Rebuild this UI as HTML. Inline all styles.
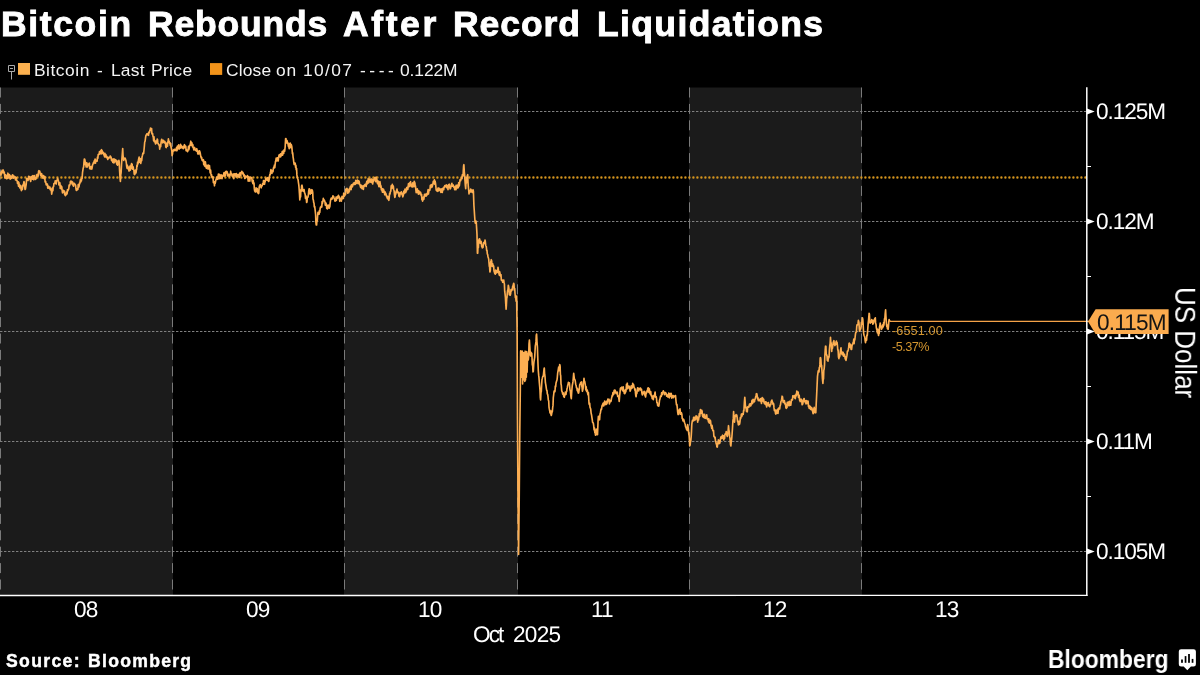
<!DOCTYPE html>
<html><head><meta charset="utf-8"><title>Bitcoin Rebounds After Record Liquidations</title>
<style>
html,body{margin:0;padding:0;background:#000;}
body{width:1200px;height:675px;overflow:hidden;position:relative;font-family:"Liberation Sans",sans-serif;color:#fff;}
.t{position:absolute;white-space:nowrap;line-height:1;will-change:transform;}
#usd{font-size:26px;transform-origin:0 0;transform:rotate(90deg) scale(1,1.112);left:1199.8px;top:286.7px;}
svg{position:absolute;left:0;top:0;}
.u{display:inline-block;transform:rotate(0.03deg);transform-origin:0 0;}
</style></head><body>
<svg width="1200" height="675" viewBox="0 0 1200 675">

<rect x="0" y="87.5" width="173" height="508.0" fill="#1b1b1b"/>
<rect x="344" y="87.5" width="174" height="508.0" fill="#1b1b1b"/>
<rect x="689" y="87.5" width="173" height="508.0" fill="#1b1b1b"/>
<line x1="0.5" y1="87.5" x2="0.5" y2="595.5" stroke="#7a7a7a" stroke-width="1" stroke-dasharray="10 6.4"/>
<line x1="172.5" y1="87.5" x2="172.5" y2="595.5" stroke="#7a7a7a" stroke-width="1" stroke-dasharray="10 6.4"/>
<line x1="344.5" y1="87.5" x2="344.5" y2="595.5" stroke="#7a7a7a" stroke-width="1" stroke-dasharray="10 6.4"/>
<line x1="517.5" y1="87.5" x2="517.5" y2="595.5" stroke="#7a7a7a" stroke-width="1" stroke-dasharray="10 6.4"/>
<line x1="689.5" y1="87.5" x2="689.5" y2="595.5" stroke="#7a7a7a" stroke-width="1" stroke-dasharray="10 6.4"/>
<line x1="861.5" y1="87.5" x2="861.5" y2="595.5" stroke="#7a7a7a" stroke-width="1" stroke-dasharray="10 6.4"/>
<line x1="0" y1="111.5" x2="1086" y2="111.5" stroke="#808080" stroke-width="1" stroke-dasharray="2.4 1.6"/>
<line x1="0" y1="221.5" x2="1086" y2="221.5" stroke="#808080" stroke-width="1" stroke-dasharray="2.4 1.6"/>
<line x1="0" y1="331.5" x2="1086" y2="331.5" stroke="#808080" stroke-width="1" stroke-dasharray="2.4 1.6"/>
<line x1="0" y1="441.5" x2="1086" y2="441.5" stroke="#808080" stroke-width="1" stroke-dasharray="2.4 1.6"/>
<line x1="0" y1="551.5" x2="1086" y2="551.5" stroke="#808080" stroke-width="1" stroke-dasharray="2.4 1.6"/>
<line x1="1.4" y1="177.5" x2="1086" y2="177.5" stroke="#d3941f" stroke-width="2.4" stroke-dasharray="0.01 3.99" stroke-linecap="round"/>
<path d="M0.0,175.5 L0.3,174.1 L0.7,172.8 L1.0,175.1 L1.3,171.5 L1.7,173.6 L2.0,172.3 L2.3,170.2 L2.7,172.2 L3.0,171.7 L3.3,170.0 L3.6,172.9 L4.0,171.7 L4.3,172.5 L4.6,175.1 L4.9,178.0 L5.2,177.0 L5.6,174.8 L5.9,175.2 L6.2,177.2 L6.6,178.7 L6.9,176.6 L7.2,175.4 L7.6,178.4 L7.9,173.2 L8.2,175.5 L8.6,177.8 L8.9,175.0 L9.2,174.5 L9.5,174.7 L9.9,176.1 L10.2,179.1 L10.5,177.7 L10.8,176.0 L11.1,178.1 L11.4,178.3 L11.7,176.8 L12.1,177.7 L12.4,175.0 L12.7,174.9 L13.0,175.7 L13.3,178.2 L13.6,176.7 L13.9,176.1 L14.2,177.0 L14.6,177.8 L14.9,177.4 L15.2,176.9 L15.5,179.9 L15.9,179.7 L16.2,177.5 L16.5,179.2 L16.8,180.4 L17.2,180.9 L17.5,183.5 L17.8,183.5 L18.2,181.9 L18.5,186.3 L18.8,182.4 L19.2,184.8 L19.5,186.0 L19.8,187.9 L20.1,185.2 L20.5,187.5 L20.8,185.7 L21.1,189.6 L21.4,190.6 L21.7,189.7 L22.1,189.0 L22.4,189.4 L22.7,185.2 L23.0,186.1 L23.4,184.4 L23.7,183.1 L24.0,181.5 L24.4,183.1 L24.7,187.1 L25.1,189.5 L25.5,189.0 L25.9,186.2 L26.2,184.6 L26.6,178.7 L27.0,178.5 L27.3,179.4 L27.6,178.9 L28.0,180.5 L28.3,179.4 L28.6,176.3 L28.9,176.6 L29.2,177.0 L29.6,179.0 L30.0,176.7 L30.4,180.2 L30.7,181.5 L31.1,178.8 L31.5,177.6 L31.9,176.3 L32.2,177.7 L32.6,179.2 L32.9,175.7 L33.2,176.4 L33.6,177.2 L33.9,179.8 L34.2,175.5 L34.6,177.5 L34.9,178.0 L35.2,177.7 L35.6,179.4 L35.9,178.6 L36.2,178.4 L36.5,174.8 L36.9,175.1 L37.2,174.4 L37.5,174.7 L37.9,176.2 L38.2,176.0 L38.6,171.1 L38.9,170.6 L39.3,171.7 L39.6,171.0 L39.9,171.8 L40.3,173.9 L40.6,175.2 L40.9,174.2 L41.2,176.2 L41.6,173.5 L41.9,175.6 L42.2,175.2 L42.5,176.2 L42.9,178.2 L43.2,176.6 L43.5,175.5 L43.8,176.4 L44.1,177.8 L44.5,179.0 L44.8,176.5 L45.1,181.9 L45.4,182.2 L45.7,181.5 L46.1,184.5 L46.4,185.0 L46.7,183.8 L47.0,184.8 L47.4,184.2 L47.7,188.0 L48.0,188.2 L48.3,186.1 L48.6,186.3 L49.0,187.3 L49.3,187.3 L49.6,188.5 L49.9,187.1 L50.2,189.7 L50.6,188.2 L51.0,190.1 L51.4,191.0 L51.7,194.2 L52.1,191.6 L52.5,187.9 L52.9,190.6 L53.2,186.7 L53.6,186.7 L53.9,183.6 L54.2,183.5 L54.5,183.4 L54.9,182.8 L55.2,180.9 L55.5,182.2 L55.9,183.7 L56.2,184.0 L56.6,180.7 L56.9,180.4 L57.3,180.0 L57.6,178.4 L57.9,179.1 L58.3,181.0 L58.6,181.2 L58.9,184.9 L59.2,183.7 L59.6,182.7 L59.9,182.7 L60.2,188.4 L60.5,186.9 L60.9,185.6 L61.2,188.5 L61.5,189.0 L61.8,186.9 L62.1,190.0 L62.5,192.9 L62.8,192.7 L63.1,192.2 L63.4,190.3 L63.7,192.0 L64.1,191.7 L64.4,191.1 L64.7,194.8 L65.0,193.9 L65.4,195.6 L65.7,193.6 L66.0,195.0 L66.4,192.2 L66.7,194.1 L67.1,193.7 L67.5,189.7 L67.8,191.0 L68.1,190.1 L68.5,189.5 L68.8,188.5 L69.1,185.1 L69.4,186.0 L69.7,185.2 L70.1,183.9 L70.4,181.6 L70.7,181.1 L71.0,181.9 L71.4,181.3 L71.7,183.1 L72.0,181.5 L72.3,184.4 L72.6,182.1 L73.0,185.1 L73.3,185.8 L73.6,186.1 L73.9,183.3 L74.2,184.5 L74.6,183.6 L74.9,184.2 L75.2,184.6 L75.6,185.2 L75.9,188.1 L76.2,190.2 L76.6,190.4 L76.9,189.1 L77.2,189.7 L77.6,189.6 L77.9,189.4 L78.2,184.6 L78.5,186.8 L78.9,187.1 L79.2,185.5 L79.5,183.0 L79.8,183.7 L80.1,181.6 L80.5,179.3 L80.8,182.0 L81.1,178.9 L81.4,180.8 L81.7,178.5 L82.1,178.4 L82.5,172.7 L82.9,170.1 L83.2,168.0 L83.6,167.4 L83.9,163.2 L84.3,159.0 L84.7,159.2 L85.1,161.0 L85.5,165.0 L85.8,163.0 L86.1,167.0 L86.5,166.3 L86.8,162.7 L87.1,166.2 L87.4,166.9 L87.7,164.2 L88.1,165.4 L88.4,164.1 L88.7,165.5 L89.0,163.5 L89.4,163.2 L89.7,168.7 L90.0,166.5 L90.3,167.4 L90.6,166.9 L91.0,169.2 L91.3,166.6 L91.6,169.0 L91.9,168.9 L92.2,167.2 L92.6,164.8 L92.9,164.2 L93.2,163.6 L93.5,162.4 L93.9,163.4 L94.2,160.8 L94.5,161.2 L94.8,160.7 L95.1,159.0 L95.5,163.1 L95.8,160.0 L96.1,160.5 L96.4,161.1 L96.7,160.5 L97.1,161.2 L97.5,157.1 L97.9,158.3 L98.2,154.5 L98.6,154.4 L98.9,154.5 L99.2,154.3 L99.5,151.5 L99.9,153.6 L100.2,152.1 L100.5,153.7 L100.9,150.3 L101.2,153.9 L101.6,149.7 L102.0,150.7 L102.3,151.2 L102.6,153.3 L103.0,153.0 L103.3,152.4 L103.6,154.1 L103.9,154.9 L104.2,155.2 L104.6,156.9 L104.9,153.3 L105.2,155.9 L105.5,154.3 L105.9,154.6 L106.2,157.4 L106.5,156.0 L106.8,156.4 L107.1,157.0 L107.5,158.4 L107.8,159.5 L108.1,157.3 L108.4,158.5 L108.7,158.2 L109.1,157.7 L109.5,157.2 L109.9,157.6 L110.2,156.0 L110.6,156.3 L110.9,157.2 L111.2,157.5 L111.5,160.5 L111.9,159.8 L112.2,161.2 L112.5,159.7 L112.8,162.4 L113.1,158.9 L113.5,160.7 L113.8,163.0 L114.1,162.7 L114.4,159.1 L114.7,161.2 L115.1,159.5 L115.4,161.6 L115.7,159.9 L116.0,161.1 L116.4,160.5 L116.7,164.1 L117.0,163.5 L117.3,164.8 L117.6,165.2 L118.0,161.0 L118.3,163.8 L118.6,163.3 L118.9,160.3 L119.2,162.0 L119.6,170.6 L120.0,177.5 L120.4,181.5 L120.8,174.5 L121.1,172.9 L121.5,165.0 L121.9,158.9 L122.3,153.9 L122.7,148.5 L123.0,155.1 L123.4,158.3 L123.7,160.5 L124.1,158.1 L124.5,159.0 L124.9,158.9 L125.2,158.2 L125.6,159.4 L126.0,160.7 L126.4,163.5 L126.7,166.5 L127.1,168.3 L127.4,165.2 L127.7,168.7 L128.0,168.7 L128.4,167.1 L128.7,169.4 L129.0,171.0 L129.3,170.8 L129.6,169.3 L130.0,166.1 L130.3,170.2 L130.6,168.3 L130.9,168.4 L131.2,165.0 L131.6,163.5 L131.9,165.0 L132.2,164.4 L132.5,169.1 L132.9,167.0 L133.2,166.9 L133.5,169.5 L133.9,170.2 L134.2,174.0 L134.6,174.6 L135.0,174.0 L135.3,171.6 L135.6,170.0 L136.0,173.0 L136.3,170.1 L136.6,169.7 L136.9,165.4 L137.2,166.5 L137.6,162.2 L138.0,163.8 L138.4,160.5 L138.7,159.0 L139.1,157.1 L139.4,162.2 L139.7,161.0 L140.0,162.3 L140.4,158.9 L140.7,163.5 L141.0,162.0 L141.4,158.0 L141.7,160.6 L142.1,156.7 L142.5,155.2 L142.9,153.1 L143.2,152.9 L143.6,153.6 L144.0,150.0 L144.4,145.7 L144.7,142.0 L145.1,141.1 L145.5,138.0 L145.8,136.2 L146.1,135.0 L146.5,134.9 L146.8,133.9 L147.1,134.2 L147.4,134.4 L147.7,135.0 L148.1,133.4 L148.5,135.3 L148.9,132.2 L149.2,132.7 L149.6,132.2 L149.9,130.0 L150.2,130.4 L150.5,128.1 L150.9,128.9 L151.2,129.7 L151.6,128.5 L151.9,133.7 L152.3,134.1 L152.6,133.5 L153.0,136.5 L153.3,137.2 L153.6,140.6 L154.0,136.9 L154.3,141.6 L154.6,140.4 L154.9,141.6 L155.2,142.5 L155.6,143.9 L155.9,141.1 L156.2,141.2 L156.5,141.8 L156.8,143.0 L157.2,139.1 L157.5,139.5 L157.8,142.7 L158.1,143.4 L158.5,144.4 L158.8,144.6 L159.1,145.6 L159.4,145.4 L159.7,149.2 L160.1,146.0 L160.4,144.4 L160.7,146.7 L161.0,142.8 L161.3,141.0 L161.7,139.3 L162.0,140.2 L162.3,142.4 L162.6,142.9 L163.0,142.1 L163.3,140.4 L163.6,140.5 L163.9,141.1 L164.2,142.5 L164.6,142.7 L164.9,141.5 L165.2,143.5 L165.5,142.9 L165.8,147.1 L166.2,147.6 L166.5,145.5 L166.8,145.1 L167.1,142.8 L167.5,146.1 L167.8,141.9 L168.1,141.5 L168.4,138.9 L168.7,141.0 L169.1,141.2 L169.4,142.6 L169.7,143.6 L170.0,142.8 L170.3,145.3 L170.7,143.5 L171.0,147.0 L171.4,148.6 L171.8,150.5 L172.1,155.6 L172.5,154.1 L172.8,151.3 L173.1,150.3 L173.5,151.0 L173.8,149.7 L174.1,150.7 L174.4,149.3 L174.8,149.3 L175.1,150.4 L175.4,149.7 L175.7,149.9 L176.1,150.6 L176.4,147.8 L176.7,147.3 L177.0,150.7 L177.4,146.0 L177.7,148.9 L178.0,147.6 L178.3,148.2 L178.7,144.8 L179.0,148.9 L179.3,149.0 L179.6,147.4 L179.9,147.9 L180.3,148.1 L180.6,144.3 L180.9,146.2 L181.2,146.0 L181.6,145.8 L181.9,147.8 L182.2,147.8 L182.5,148.0 L182.9,146.9 L183.2,148.7 L183.5,147.7 L183.8,148.0 L184.1,145.6 L184.5,144.7 L184.8,145.4 L185.1,147.6 L185.5,147.3 L185.8,146.3 L186.1,150.7 L186.5,149.7 L186.8,150.5 L187.1,150.9 L187.5,151.7 L187.8,151.1 L188.1,150.1 L188.5,146.4 L188.8,149.7 L189.1,148.5 L189.5,146.1 L189.8,145.3 L190.1,145.0 L190.5,143.1 L190.8,141.2 L191.1,145.3 L191.5,143.1 L191.8,142.6 L192.1,144.1 L192.5,147.0 L192.8,144.6 L193.1,146.7 L193.5,148.3 L193.8,149.9 L194.1,147.6 L194.5,147.4 L194.8,148.2 L195.1,149.7 L195.5,150.5 L195.8,149.3 L196.1,150.5 L196.5,151.2 L196.8,148.7 L197.1,149.7 L197.5,150.8 L197.8,154.0 L198.1,152.2 L198.5,153.8 L198.8,154.0 L199.2,150.8 L199.5,150.9 L199.9,151.8 L200.2,152.9 L200.6,155.3 L200.9,156.8 L201.3,158.1 L201.7,157.5 L202.0,160.0 L202.4,160.6 L202.7,160.7 L203.0,161.2 L203.4,159.7 L203.7,164.4 L204.0,161.1 L204.4,165.7 L204.7,163.6 L205.0,166.4 L205.4,161.9 L205.7,164.7 L206.0,167.1 L206.4,168.3 L206.7,166.0 L207.0,165.4 L207.4,167.1 L207.7,165.4 L208.1,169.2 L208.4,165.0 L208.8,166.9 L209.1,166.2 L209.5,165.7 L209.8,169.2 L210.2,173.0 L210.6,170.0 L210.9,173.4 L211.3,175.8 L211.6,174.8 L212.0,177.6 L212.3,177.3 L212.7,176.9 L213.0,177.2 L213.4,182.6 L213.8,182.2 L214.1,181.5 L214.5,185.8 L214.8,181.9 L215.2,183.3 L215.5,181.8 L215.9,179.8 L216.2,179.6 L216.6,177.1 L217.0,177.7 L217.3,177.0 L217.7,179.3 L218.0,176.9 L218.4,174.1 L218.7,178.1 L219.0,178.4 L219.4,174.4 L219.7,178.7 L220.0,177.4 L220.4,178.3 L220.7,176.0 L221.0,174.9 L221.4,175.3 L221.7,175.5 L222.0,178.7 L222.4,176.5 L222.7,175.3 L223.0,175.6 L223.4,176.0 L223.7,174.4 L224.0,172.7 L224.4,172.5 L224.7,176.1 L225.0,172.6 L225.4,175.7 L225.7,171.6 L226.0,172.5 L226.4,171.4 L226.7,173.0 L227.0,171.5 L227.4,172.7 L227.7,176.0 L228.0,175.9 L228.4,175.7 L228.7,174.3 L229.0,174.8 L229.4,176.3 L229.7,176.3 L230.0,174.1 L230.4,174.9 L230.7,171.2 L231.0,174.7 L231.4,173.4 L231.7,173.8 L232.1,176.1 L232.4,176.3 L232.8,175.1 L233.1,176.9 L233.5,174.2 L233.8,178.6 L234.1,173.9 L234.5,175.4 L234.8,174.4 L235.1,173.8 L235.5,175.9 L235.8,174.3 L236.1,177.2 L236.5,173.6 L236.8,176.1 L237.1,174.5 L237.5,176.2 L237.8,175.7 L238.1,174.8 L238.5,176.9 L238.8,174.5 L239.1,174.2 L239.5,177.4 L239.8,174.7 L240.1,172.6 L240.5,175.8 L240.8,175.7 L241.1,172.5 L241.5,172.6 L241.8,171.4 L242.1,172.1 L242.5,172.0 L242.8,173.8 L243.2,172.9 L243.5,174.2 L243.8,176.0 L244.2,174.8 L244.5,176.6 L244.8,178.5 L245.2,177.8 L245.5,176.1 L245.8,176.2 L246.2,176.9 L246.5,176.9 L246.8,176.6 L247.2,176.7 L247.5,175.6 L247.8,177.1 L248.2,181.1 L248.5,176.9 L248.8,179.3 L249.2,179.6 L249.5,180.1 L249.8,181.1 L250.2,177.4 L250.5,177.5 L250.8,177.1 L251.2,177.7 L251.5,177.7 L251.8,177.8 L252.2,181.5 L252.5,182.2 L252.9,183.6 L253.2,180.2 L253.6,184.0 L254.0,183.1 L254.3,188.4 L254.7,191.0 L255.0,190.3 L255.4,192.0 L255.7,191.8 L256.1,187.9 L256.4,189.3 L256.8,191.5 L257.2,188.5 L257.6,192.5 L258.0,192.9 L258.4,193.6 L258.8,193.0 L259.1,187.8 L259.5,185.8 L259.8,186.7 L260.2,184.5 L260.5,186.2 L260.8,186.7 L261.2,187.8 L261.5,186.2 L261.8,185.5 L262.2,185.8 L262.5,184.0 L262.8,183.5 L263.2,183.6 L263.5,180.5 L263.8,184.2 L264.2,180.9 L264.5,184.3 L264.8,182.5 L265.2,181.4 L265.5,179.8 L265.9,178.3 L266.2,178.4 L266.6,180.0 L266.9,178.7 L267.3,180.3 L267.7,177.7 L268.0,178.0 L268.4,181.0 L268.7,181.4 L269.1,180.0 L269.4,177.2 L269.8,174.5 L270.1,174.8 L270.5,172.5 L270.9,169.5 L271.2,170.7 L271.6,171.2 L271.9,173.5 L272.3,170.7 L272.6,170.9 L273.0,171.7 L273.3,169.0 L273.7,167.1 L274.1,168.0 L274.4,165.2 L274.8,167.7 L275.1,164.9 L275.5,161.3 L275.8,160.9 L276.2,158.0 L276.5,160.2 L276.8,160.9 L277.2,159.1 L277.5,157.9 L277.8,159.8 L278.2,160.9 L278.5,158.2 L278.8,156.3 L279.2,154.8 L279.5,156.0 L279.8,156.0 L280.2,157.0 L280.5,153.9 L280.8,156.7 L281.2,154.7 L281.5,155.4 L281.9,153.6 L282.2,151.5 L282.6,155.1 L282.9,152.0 L283.3,150.8 L283.7,153.4 L284.0,150.0 L284.4,149.8 L284.7,151.1 L285.2,146.3 L285.6,138.7 L286.0,138.5 L286.3,142.9 L286.7,141.3 L287.0,140.5 L287.4,143.1 L287.8,142.5 L288.1,144.5 L288.5,146.7 L288.8,146.7 L289.2,148.6 L289.5,143.7 L289.9,144.5 L290.2,143.0 L290.6,144.0 L290.9,147.8 L291.2,144.6 L291.5,145.4 L291.8,146.7 L292.1,149.8 L292.4,153.8 L292.7,152.9 L293.1,157.3 L293.4,158.8 L293.8,162.5 L294.2,164.5 L294.5,164.5 L294.9,163.8 L295.2,163.2 L295.6,167.5 L295.9,165.4 L296.2,169.6 L296.6,168.6 L296.9,174.9 L297.2,176.9 L297.5,177.6 L297.8,178.9 L298.1,180.0 L298.4,182.3 L298.8,184.9 L299.1,188.5 L299.5,194.4 L299.8,200.0 L300.2,196.4 L300.6,196.8 L300.9,189.5 L301.3,191.2 L301.6,185.8 L302.0,185.1 L302.3,186.8 L302.7,190.2 L303.0,191.1 L303.4,190.3 L303.8,190.8 L304.1,189.6 L304.5,192.8 L304.8,193.1 L305.2,194.7 L305.5,198.4 L305.9,195.9 L306.3,198.2 L306.6,202.5 L307.0,201.8 L307.3,197.2 L307.7,197.1 L308.0,197.1 L308.4,194.7 L308.7,191.1 L309.1,188.8 L309.5,189.0 L309.8,189.3 L310.2,194.1 L310.5,192.0 L310.9,190.4 L311.2,192.7 L311.6,193.1 L311.9,189.7 L312.3,190.3 L312.7,192.1 L313.0,199.0 L313.4,200.2 L313.7,202.7 L314.0,203.0 L314.3,207.0 L314.7,206.4 L315.0,208.9 L315.3,211.7 L315.6,214.3 L315.9,222.3 L316.2,224.9 L316.6,225.0 L316.9,221.2 L317.3,220.7 L317.6,216.1 L318.0,212.4 L318.3,212.5 L318.7,212.7 L319.1,214.2 L319.4,210.7 L319.8,212.5 L320.1,208.7 L320.5,207.2 L320.8,207.5 L321.2,207.2 L321.5,205.9 L321.8,206.9 L322.1,201.6 L322.4,203.7 L322.7,202.1 L323.0,201.3 L323.3,198.3 L323.7,200.6 L324.0,200.6 L324.3,200.0 L324.6,200.8 L325.0,202.0 L325.3,205.1 L325.6,204.5 L326.0,203.1 L326.4,204.6 L326.7,208.5 L327.1,206.7 L327.4,208.9 L327.8,205.9 L328.1,205.1 L328.4,207.2 L328.8,205.3 L329.1,208.2 L329.4,207.0 L329.8,206.9 L330.1,203.6 L330.4,201.3 L330.8,199.2 L331.2,198.2 L331.5,199.3 L331.9,198.3 L332.2,199.0 L332.6,197.3 L332.9,195.8 L333.3,196.4 L333.6,196.5 L334.0,197.8 L334.4,198.8 L334.7,200.0 L335.1,201.2 L335.4,200.0 L335.8,200.5 L336.1,197.1 L336.4,200.5 L336.8,197.2 L337.1,198.2 L337.4,196.7 L337.8,198.2 L338.1,196.5 L338.4,195.4 L338.7,196.2 L339.0,196.8 L339.4,196.8 L339.7,201.3 L340.0,199.8 L340.3,199.9 L340.7,198.2 L341.0,198.2 L341.4,201.1 L341.7,198.1 L342.0,196.3 L342.4,197.4 L342.7,198.6 L343.0,197.2 L343.4,198.5 L343.7,193.2 L344.1,194.7 L344.4,196.1 L344.7,193.9 L345.1,195.0 L345.5,194.7 L345.8,189.2 L346.2,189.9 L346.5,190.3 L346.9,188.4 L347.2,188.9 L347.6,193.2 L347.9,191.2 L348.3,190.9 L348.7,192.6 L349.0,189.0 L349.4,191.1 L349.7,188.3 L350.1,187.9 L350.4,186.4 L350.8,189.0 L351.1,189.6 L351.5,184.9 L351.9,186.7 L352.2,186.9 L352.5,186.7 L352.9,184.2 L353.2,184.7 L353.5,183.1 L353.9,183.1 L354.2,184.4 L354.5,182.8 L354.9,184.4 L355.2,184.4 L355.5,181.7 L355.8,180.4 L356.2,181.8 L356.5,183.5 L356.8,180.5 L357.1,180.9 L357.5,180.1 L357.8,181.4 L358.1,183.6 L358.5,182.9 L358.8,180.8 L359.2,181.6 L359.6,184.4 L359.9,184.5 L360.3,186.1 L360.6,187.3 L361.0,185.0 L361.3,187.9 L361.7,185.9 L362.0,188.6 L362.4,186.9 L362.7,186.1 L363.0,186.0 L363.4,189.4 L363.7,186.7 L364.1,185.3 L364.4,186.2 L364.8,184.6 L365.1,184.4 L365.5,184.4 L365.8,186.0 L366.2,186.4 L366.5,182.6 L366.8,181.4 L367.2,183.9 L367.5,180.7 L367.9,182.0 L368.2,178.7 L368.6,183.0 L368.9,179.8 L369.3,181.4 L369.6,179.0 L370.0,179.0 L370.3,182.1 L370.7,180.4 L371.0,179.3 L371.3,179.0 L371.7,182.4 L372.0,182.6 L372.3,182.9 L372.7,184.0 L373.0,179.1 L373.4,181.6 L373.7,179.8 L374.0,180.1 L374.4,179.6 L374.7,177.6 L375.1,178.3 L375.4,179.5 L375.7,181.6 L376.1,177.1 L376.4,179.1 L376.7,179.0 L377.1,181.8 L377.5,183.7 L377.8,180.6 L378.2,181.3 L378.5,184.4 L378.9,186.7 L379.2,186.7 L379.6,183.9 L379.9,181.5 L380.3,183.8 L380.7,187.4 L381.0,185.8 L381.4,189.9 L381.7,189.6 L382.1,190.3 L382.4,192.2 L382.8,188.7 L383.1,192.2 L383.5,189.3 L383.9,190.9 L384.2,191.1 L384.6,194.2 L384.9,194.8 L385.3,192.0 L385.6,194.5 L386.0,193.8 L386.3,195.6 L386.7,197.0 L387.1,197.1 L387.4,198.6 L387.8,196.4 L388.1,197.0 L388.5,199.5 L388.8,200.3 L389.2,198.0 L389.6,193.4 L390.0,194.0 L390.4,191.5 L390.8,191.3 L391.2,185.8 L391.6,186.7 L391.9,188.5 L392.3,184.4 L392.6,186.9 L393.0,186.5 L393.3,186.2 L393.7,189.7 L394.1,190.7 L394.4,194.2 L394.8,197.4 L395.1,196.6 L395.4,194.4 L395.7,194.4 L396.0,191.9 L396.3,190.9 L396.7,190.9 L397.0,189.0 L397.4,192.6 L397.7,192.3 L398.1,192.7 L398.5,192.2 L398.9,196.1 L399.3,195.6 L399.6,196.7 L400.0,194.5 L400.3,192.5 L400.7,193.6 L401.0,193.3 L401.4,191.9 L401.8,192.7 L402.1,195.0 L402.5,193.9 L402.8,196.8 L403.2,195.4 L403.5,194.7 L403.9,191.1 L404.2,193.3 L404.6,191.5 L405.0,189.1 L405.3,192.5 L405.7,192.6 L406.0,191.1 L406.4,190.9 L406.7,187.5 L407.1,189.0 L407.4,187.4 L407.8,189.5 L408.2,186.2 L408.5,183.5 L408.9,186.7 L409.2,186.7 L409.6,184.6 L409.9,182.6 L410.3,184.7 L410.6,181.7 L411.0,186.3 L411.4,184.0 L411.7,184.4 L412.1,187.0 L412.4,186.9 L412.8,182.9 L413.1,186.4 L413.5,185.0 L413.9,186.7 L414.2,181.4 L414.6,182.4 L414.9,182.6 L415.2,186.6 L415.5,185.9 L415.9,190.3 L416.2,192.6 L416.6,189.3 L416.9,192.4 L417.3,188.9 L417.6,190.9 L418.0,191.4 L418.4,194.1 L418.7,190.7 L419.1,191.5 L419.4,193.3 L419.8,193.8 L420.1,193.2 L420.5,192.2 L420.8,193.4 L421.2,195.6 L421.6,194.6 L421.9,199.7 L422.3,199.1 L422.6,201.1 L423.0,199.8 L423.4,197.0 L423.8,199.3 L424.2,196.8 L424.5,194.3 L424.9,196.0 L425.2,196.1 L425.6,194.2 L425.9,194.5 L426.3,196.0 L426.7,193.8 L427.0,193.5 L427.4,194.6 L427.7,192.1 L428.1,189.6 L428.4,194.0 L428.8,191.7 L429.1,190.1 L429.5,190.3 L429.9,190.1 L430.3,185.5 L430.7,185.0 L431.0,187.7 L431.4,185.6 L431.7,184.6 L432.1,186.9 L432.5,185.6 L432.9,184.1 L433.3,181.4 L433.6,182.0 L434.0,183.4 L434.4,179.8 L434.7,184.1 L435.1,181.1 L435.4,182.6 L435.8,185.9 L436.2,190.3 L436.6,190.3 L437.0,190.9 L437.3,191.4 L437.7,189.6 L438.0,188.1 L438.4,190.9 L438.7,188.0 L439.1,188.3 L439.5,190.5 L439.8,189.1 L440.2,189.1 L440.5,189.8 L440.9,192.4 L441.2,188.9 L441.6,190.0 L441.9,192.1 L442.3,192.4 L442.7,188.6 L443.0,188.0 L443.4,189.4 L443.7,189.7 L444.1,186.8 L444.4,187.3 L444.8,185.7 L445.1,186.8 L445.5,185.6 L445.9,186.5 L446.2,184.9 L446.6,187.7 L446.9,187.3 L447.3,187.9 L447.6,185.6 L448.0,189.6 L448.3,185.5 L448.7,184.6 L449.1,186.2 L449.4,184.2 L449.8,187.4 L450.1,188.9 L450.5,188.6 L450.8,187.3 L451.2,186.3 L451.5,185.1 L451.9,183.3 L452.3,186.2 L452.6,185.0 L453.0,185.8 L453.3,185.1 L453.7,187.2 L454.0,186.6 L454.4,187.3 L454.7,189.7 L455.0,187.3 L455.3,188.7 L455.7,186.1 L456.0,189.8 L456.3,185.2 L456.7,187.9 L457.0,187.3 L457.3,186.5 L457.7,188.0 L458.0,184.7 L458.3,187.7 L458.7,182.7 L459.0,184.7 L459.3,185.9 L459.7,182.7 L460.0,179.8 L460.3,179.3 L460.7,180.6 L461.0,179.1 L461.3,179.0 L461.7,177.3 L462.0,178.7 L462.3,174.9 L462.7,175.3 L463.0,176.0 L463.3,171.1 L463.6,166.0 L463.9,164.7 L464.3,171.8 L464.6,174.7 L465.0,180.9 L465.3,185.2 L465.7,188.7 L466.0,182.2 L466.4,183.0 L466.7,177.3 L467.0,177.8 L467.4,175.4 L467.7,174.7 L468.0,182.0 L468.3,186.7 L468.7,190.1 L469.0,194.0 L469.3,192.0 L469.7,190.9 L470.0,191.1 L470.3,192.0 L470.7,189.0 L471.0,190.1 L471.3,191.8 L471.7,190.0 L472.0,191.3 L472.4,192.4 L472.7,191.9 L473.1,189.8 L473.4,191.3 L473.9,205.3 L474.3,211.0 L474.6,215.7 L475.0,221.3 L475.3,223.2 L475.7,222.1 L476.0,221.1 L476.3,222.7 L476.7,229.4 L477.0,234.7 L477.4,253.3 L477.7,253.2 L478.0,246.5 L478.4,247.4 L478.7,240.0 L479.0,240.0 L479.3,238.9 L479.7,239.0 L480.0,242.0 L480.3,243.3 L480.7,242.4 L481.0,241.3 L481.3,242.1 L481.7,246.7 L482.0,245.4 L482.3,248.0 L482.7,245.3 L483.0,247.5 L483.3,244.7 L483.7,242.7 L484.0,243.0 L484.3,242.2 L484.7,243.3 L485.0,240.0 L485.3,241.5 L485.7,245.2 L486.0,246.1 L486.3,246.7 L486.7,250.6 L487.0,250.3 L487.3,253.9 L487.7,254.7 L488.0,257.0 L488.3,257.6 L488.7,259.1 L489.0,262.7 L489.3,266.4 L489.6,266.6 L489.9,272.0 L490.3,270.7 L490.6,263.0 L491.0,261.3 L491.3,259.7 L491.7,261.0 L492.0,266.3 L492.3,264.1 L492.7,263.8 L493.0,266.7 L493.3,265.2 L493.7,266.4 L494.0,271.0 L494.3,271.8 L494.7,273.3 L495.0,273.3 L495.3,274.2 L495.7,270.1 L496.0,272.5 L496.3,270.8 L496.7,272.8 L497.0,270.7 L497.3,272.1 L497.7,272.1 L498.0,267.3 L498.3,269.3 L498.7,272.4 L499.0,273.8 L499.3,275.1 L499.7,271.7 L500.0,273.3 L500.3,276.0 L500.7,274.6 L501.0,274.8 L501.3,279.9 L501.7,280.4 L502.0,280.1 L502.3,280.0 L502.7,282.3 L503.0,281.8 L503.4,280.5 L503.7,280.0 L504.1,282.7 L504.4,284.1 L504.7,291.2 L505.0,293.3 L505.4,297.1 L505.7,303.0 L506.1,309.3 L506.4,304.9 L506.7,298.7 L507.0,297.3 L507.3,293.0 L507.7,290.2 L508.0,289.5 L508.3,285.3 L508.7,287.0 L509.0,289.0 L509.3,294.8 L509.7,294.7 L510.0,294.0 L510.3,295.2 L510.7,293.3 L511.0,289.5 L511.3,290.9 L511.7,290.7 L512.0,289.1 L512.3,289.7 L512.7,286.2 L513.0,286.9 L513.3,284.8 L513.7,283.3 L514.0,284.3 L514.3,290.3 L514.7,288.6 L515.0,293.3 L515.4,297.7 L515.7,296.9 L516.1,301.3 L516.6,296.0 L517.1,330.0 L517.5,420.0 L518.0,500.0 L518.3,524.6 L518.6,554.5 L518.9,525.6 L519.2,500.0 L519.8,430.0 L520.3,390.0 L520.6,352.0 L520.7,350.9 L521.1,377.3 L521.5,352.5 L521.8,373.5 L522.2,351.1 L522.6,384.0 L522.9,353.3 L523.3,380.1 L523.6,352.5 L524.1,378.9 L524.5,352.7 L524.8,381.5 L525.2,351.2 L525.5,380.1 L525.8,352.9 L526.3,377.3 L526.7,351.6 L527.1,372.3 L527.6,353.5 L527.9,358.1 L528.3,360.0 L528.7,355.9 L529.0,344.0 L529.4,340.0 L529.7,344.8 L530.0,349.7 L530.3,354.7 L530.7,355.9 L531.0,352.3 L531.3,353.6 L531.7,353.3 L532.0,357.2 L532.3,364.5 L532.7,366.0 L533.0,372.0 L533.3,371.4 L533.7,364.8 L534.0,361.5 L534.3,360.0 L534.7,357.1 L535.0,352.0 L535.3,345.9 L535.7,344.0 L536.0,341.4 L536.3,335.1 L536.6,334.0 L537.0,341.9 L537.4,346.7 L537.7,355.7 L538.0,364.2 L538.3,370.7 L538.7,375.4 L539.0,377.9 L539.3,382.1 L539.7,386.7 L540.0,390.5 L540.3,397.7 L540.6,400.0 L541.0,392.4 L541.3,391.4 L541.7,384.0 L542.0,379.4 L542.3,378.4 L542.7,376.7 L543.0,376.0 L543.3,376.2 L543.7,372.0 L544.0,369.3 L544.3,368.0 L544.7,375.0 L545.0,376.3 L545.4,382.7 L545.7,384.1 L546.0,386.0 L546.4,388.8 L546.7,390.4 L547.0,390.7 L547.3,393.8 L547.7,394.5 L548.0,396.7 L548.3,400.0 L548.7,400.8 L549.0,407.2 L549.3,408.9 L549.7,410.7 L550.0,413.0 L550.3,410.9 L550.7,413.3 L551.0,414.7 L551.3,415.5 L551.7,413.8 L552.0,410.6 L552.3,412.0 L552.7,407.5 L553.0,405.4 L553.3,397.6 L553.7,394.7 L554.0,391.7 L554.3,390.9 L554.7,391.8 L555.0,391.2 L555.3,386.1 L555.7,386.7 L556.0,383.1 L556.3,382.0 L556.7,380.7 L557.0,380.0 L557.3,377.5 L557.7,372.8 L558.0,371.1 L558.3,369.3 L558.7,367.0 L559.0,370.6 L559.4,368.6 L559.7,364.5 L560.1,366.0 L560.4,374.5 L560.7,375.8 L561.0,384.0 L561.3,385.4 L561.7,390.6 L562.0,391.6 L562.3,392.0 L562.7,394.1 L563.0,393.4 L563.3,393.0 L563.7,396.3 L564.0,394.3 L564.3,397.3 L564.7,394.9 L565.0,395.0 L565.3,392.1 L565.7,393.2 L566.0,394.5 L566.3,392.0 L566.7,391.4 L567.0,388.7 L567.3,387.7 L567.7,385.3 L568.0,384.6 L568.4,382.3 L568.7,384.3 L569.1,382.7 L569.4,382.7 L569.7,386.6 L570.0,390.2 L570.3,390.3 L570.6,393.7 L571.0,397.3 L571.3,398.7 L571.6,393.8 L572.0,388.3 L572.3,385.3 L572.7,383.5 L573.0,381.4 L573.3,377.8 L573.7,373.3 L574.0,376.1 L574.3,378.6 L574.7,379.3 L575.0,380.0 L575.3,381.3 L575.7,384.2 L576.1,385.4 L576.5,387.8 L576.9,387.8 L577.2,390.6 L577.6,388.8 L577.9,391.6 L578.3,393.1 L578.7,392.9 L579.0,390.7 L579.4,388.5 L579.7,384.7 L580.1,384.2 L580.5,383.0 L580.9,382.4 L581.3,381.9 L581.7,385.7 L582.1,387.7 L582.4,391.3 L582.8,389.7 L583.1,388.4 L583.4,381.8 L583.7,381.7 L584.0,378.3 L584.3,381.6 L584.7,381.3 L585.1,383.6 L585.4,385.4 L585.8,389.9 L586.2,386.9 L586.6,391.3 L587.0,391.8 L587.3,390.0 L587.7,393.6 L588.0,394.7 L588.4,392.5 L589.0,403.2 L589.3,404.5 L589.7,403.4 L590.0,407.1 L590.4,408.2 L590.7,409.1 L591.1,413.1 L591.5,414.7 L591.9,417.4 L592.3,419.8 L592.6,422.5 L593.0,422.5 L593.4,423.6 L593.7,425.7 L594.1,430.0 L594.4,427.9 L594.8,432.4 L595.1,432.7 L595.5,435.2 L595.9,434.6 L596.3,429.2 L596.7,429.3 L597.1,434.6 L597.5,434.6 L597.8,427.7 L598.1,420.0 L598.4,416.2 L598.8,416.2 L599.2,418.1 L599.6,419.8 L600.0,414.0 L600.4,413.0 L600.8,410.3 L601.2,408.9 L601.5,409.5 L601.9,406.7 L602.2,405.2 L602.6,405.6 L603.0,403.4 L603.3,405.4 L603.7,405.8 L604.0,402.9 L604.4,402.0 L604.7,401.0 L605.1,404.6 L605.4,402.8 L605.8,402.3 L606.2,404.4 L606.5,401.3 L606.9,403.7 L607.2,402.8 L607.6,400.8 L607.9,399.0 L608.3,399.5 L608.6,400.6 L609.0,399.3 L609.4,403.9 L609.7,402.0 L610.1,400.5 L610.4,401.3 L610.8,401.6 L611.1,400.9 L611.5,398.4 L611.8,397.3 L612.2,395.4 L612.6,395.9 L612.9,392.6 L613.3,393.7 L613.7,394.3 L614.1,390.6 L614.5,390.2 L614.8,392.8 L615.2,390.3 L615.5,391.6 L615.9,391.7 L616.2,393.7 L616.6,393.7 L616.9,392.7 L617.3,392.1 L617.7,396.3 L618.0,395.5 L618.4,396.3 L618.8,398.1 L619.2,401.4 L619.6,396.0 L620.0,392.6 L620.4,388.4 L620.7,387.9 L621.1,388.9 L621.4,388.9 L621.8,387.2 L622.2,387.8 L622.5,390.6 L622.9,390.6 L623.2,386.8 L623.6,391.4 L623.9,390.2 L624.3,393.3 L624.7,393.7 L625.1,393.1 L625.5,389.6 L625.8,391.8 L626.2,389.2 L626.5,384.3 L626.9,385.4 L627.3,383.2 L627.6,388.8 L628.0,387.7 L628.3,386.0 L628.7,387.8 L629.0,386.1 L629.4,386.8 L629.7,387.8 L630.1,391.2 L630.5,390.2 L630.9,388.1 L631.2,385.9 L631.6,386.6 L632.0,388.3 L632.4,387.2 L632.7,383.4 L633.1,386.8 L633.4,384.2 L633.8,385.8 L634.1,387.6 L634.5,388.0 L634.8,390.1 L635.2,389.0 L635.5,393.1 L635.8,395.9 L636.1,396.7 L636.5,392.8 L636.9,393.3 L637.2,390.2 L637.6,387.8 L637.9,389.4 L638.3,388.2 L638.6,390.9 L639.0,389.5 L639.3,389.6 L639.7,388.4 L640.1,388.4 L640.4,388.0 L640.8,390.0 L641.1,390.2 L641.5,389.3 L641.9,393.1 L642.3,394.9 L642.7,392.3 L643.0,393.4 L643.4,392.7 L643.7,392.3 L644.1,391.3 L644.5,394.9 L644.9,391.8 L645.3,396.1 L645.6,396.9 L646.0,393.8 L646.3,393.2 L646.7,392.7 L647.1,390.7 L647.4,391.6 L647.8,388.1 L648.2,387.8 L648.6,388.4 L648.9,392.4 L649.3,388.7 L649.7,392.8 L650.0,393.1 L650.4,394.3 L650.7,391.5 L651.1,395.1 L651.4,396.0 L651.8,395.5 L652.2,398.6 L652.6,396.2 L653.0,397.9 L653.3,399.6 L653.7,396.3 L654.0,395.3 L654.4,396.7 L654.8,393.7 L655.1,392.1 L655.5,396.8 L655.8,397.2 L656.2,396.6 L656.5,398.4 L656.9,402.8 L657.3,402.5 L657.7,405.6 L658.1,405.1 L658.4,405.1 L658.8,406.1 L659.1,404.4 L659.5,400.4 L659.9,399.3 L660.3,397.3 L660.6,396.0 L660.9,395.9 L661.3,396.5 L661.6,392.8 L661.9,393.1 L662.2,394.6 L662.6,392.1 L662.9,392.4 L663.3,390.9 L663.6,391.9 L664.0,392.1 L664.4,394.7 L664.7,393.1 L665.1,394.0 L665.4,392.5 L665.8,392.8 L666.2,393.9 L666.6,396.1 L667.0,394.9 L667.3,396.3 L667.7,396.5 L668.0,397.1 L668.4,395.5 L668.7,393.1 L669.1,396.9 L669.4,397.8 L669.7,396.1 L670.1,393.5 L670.4,394.9 L670.8,396.1 L671.1,393.3 L671.4,394.2 L671.8,398.1 L672.1,396.3 L672.5,396.5 L672.8,397.1 L673.1,395.5 L673.5,397.7 L673.8,396.1 L674.1,396.1 L674.5,396.2 L674.8,396.5 L675.2,396.0 L675.5,395.5 L676.1,402.0 L676.5,405.0 L676.9,404.4 L677.3,407.9 L677.7,412.1 L678.1,414.5 L678.4,413.5 L678.7,414.4 L679.0,410.2 L679.3,409.9 L679.6,410.9 L680.0,408.8 L680.4,413.1 L680.7,414.2 L681.1,413.2 L681.4,412.7 L681.8,413.9 L682.2,418.4 L682.6,418.6 L683.0,420.9 L683.3,420.4 L683.7,419.4 L684.0,420.4 L684.4,422.2 L684.8,423.3 L685.2,424.3 L685.6,426.9 L686.0,427.3 L686.4,429.2 L686.8,429.3 L687.2,430.4 L687.6,424.5 L687.9,425.7 L688.4,430.2 L688.8,434.0 L689.1,435.5 L689.4,439.9 L689.7,445.9 L690.1,445.2 L690.5,441.5 L690.8,441.0 L691.2,436.4 L691.5,431.4 L691.8,424.3 L692.1,422.2 L692.5,420.4 L692.8,420.3 L693.2,421.0 L693.6,417.4 L693.9,420.5 L694.3,418.2 L694.6,418.4 L695.0,417.2 L695.3,419.8 L695.7,419.4 L696.1,415.9 L696.5,416.2 L696.9,416.3 L697.3,417.6 L697.7,422.2 L698.1,417.9 L698.5,420.0 L698.9,417.4 L699.3,413.6 L699.7,416.4 L700.1,412.1 L700.5,409.5 L700.9,413.3 L701.3,410.9 L701.7,410.3 L702.1,411.1 L702.4,415.0 L702.8,416.6 L703.2,414.4 L703.5,417.4 L703.9,414.8 L704.2,416.8 L704.6,414.3 L704.9,418.1 L705.3,417.6 L705.6,418.3 L706.0,416.2 L706.4,417.9 L706.7,414.9 L707.1,418.3 L707.4,419.3 L707.8,418.6 L708.1,418.9 L708.5,421.9 L708.8,418.7 L709.2,423.0 L709.6,421.0 L709.9,423.1 L710.3,420.2 L710.6,421.2 L711.0,425.6 L711.3,425.7 L711.7,428.4 L712.0,425.3 L712.4,427.5 L712.8,430.7 L713.1,430.5 L713.5,430.6 L713.9,436.4 L714.3,436.4 L714.7,437.9 L715.1,437.2 L715.5,441.1 L715.8,441.6 L716.2,443.9 L716.6,444.3 L716.9,446.8 L717.3,447.1 L717.7,442.8 L718.1,443.9 L718.4,439.9 L718.8,440.4 L719.2,443.1 L719.6,443.5 L720.0,442.2 L720.4,439.1 L720.8,437.6 L721.2,436.5 L721.5,438.2 L721.9,438.5 L722.2,437.2 L722.6,435.2 L723.0,437.1 L723.4,437.2 L723.8,439.9 L724.2,435.6 L724.6,438.5 L725.0,434.0 L725.4,434.3 L725.8,434.2 L726.2,431.6 L726.5,432.3 L726.9,435.4 L727.3,436.4 L727.7,435.4 L728.1,431.1 L728.5,425.7 L728.9,429.8 L729.3,431.8 L729.7,436.4 L730.1,439.2 L730.5,444.8 L730.9,445.9 L731.3,441.2 L731.7,439.0 L732.1,434.0 L732.5,428.0 L732.9,421.0 L733.3,418.4 L733.6,411.5 L734.0,418.5 L734.5,422.2 L734.8,419.0 L735.2,415.5 L735.6,416.2 L736.0,414.6 L736.4,415.0 L736.8,415.0 L737.2,417.9 L737.6,421.5 L738.0,422.2 L738.4,425.0 L738.8,421.3 L739.2,424.5 L739.6,424.0 L740.0,421.5 L740.4,417.4 L740.7,418.7 L741.1,416.4 L741.4,414.1 L741.8,416.5 L742.2,413.9 L742.5,414.9 L742.9,413.7 L743.2,414.3 L743.6,410.7 L743.9,410.9 L744.4,401.8 L744.8,397.3 L745.1,401.1 L745.4,406.0 L745.7,407.9 L746.1,407.3 L746.5,411.3 L746.9,410.9 L747.3,411.8 L747.7,406.7 L748.1,406.7 L748.4,407.1 L748.8,407.2 L749.2,405.8 L749.5,404.2 L749.9,405.6 L750.2,403.8 L750.6,406.0 L750.9,405.7 L751.3,403.4 L751.6,403.2 L752.0,400.4 L752.4,403.7 L752.7,402.9 L753.1,399.4 L753.4,400.2 L753.8,400.4 L754.1,401.9 L754.5,401.6 L754.8,399.4 L755.2,399.0 L755.6,397.1 L756.0,396.0 L756.4,393.7 L756.8,393.8 L757.2,395.6 L757.6,399.0 L757.9,397.6 L758.3,400.6 L758.6,399.0 L759.0,400.3 L759.3,400.2 L759.7,399.9 L760.1,400.8 L760.4,399.0 L760.8,398.7 L761.1,401.4 L761.5,403.5 L761.8,399.5 L762.2,397.5 L762.5,399.8 L762.9,398.4 L763.3,401.4 L763.7,399.4 L764.1,402.6 L764.4,403.6 L764.8,402.7 L765.2,404.1 L765.5,401.9 L765.9,405.0 L766.2,402.1 L766.6,406.9 L766.9,405.9 L767.3,403.5 L767.6,403.2 L768.0,403.9 L768.4,402.6 L768.7,405.8 L769.1,404.2 L769.4,405.0 L769.8,406.7 L770.1,405.0 L770.5,404.6 L770.8,404.6 L771.2,401.4 L771.6,400.7 L771.9,400.1 L772.3,401.6 L772.6,402.1 L773.0,404.4 L773.3,403.2 L773.7,404.1 L774.0,407.9 L774.4,410.6 L774.8,409.7 L775.1,410.2 L775.5,413.5 L775.8,414.1 L776.2,410.2 L776.5,413.3 L776.9,413.2 L777.2,411.5 L777.6,409.4 L778.0,413.4 L778.3,410.3 L778.7,408.0 L779.0,408.8 L779.4,408.2 L779.7,409.0 L780.1,405.6 L780.5,404.9 L780.9,401.8 L781.3,400.8 L781.7,399.2 L782.1,396.2 L782.5,396.7 L782.9,400.8 L783.3,402.5 L783.6,401.4 L784.0,400.7 L784.4,400.5 L784.8,403.8 L785.2,403.1 L785.5,404.2 L785.9,407.7 L786.3,408.3 L786.6,406.7 L787.0,407.6 L787.3,402.4 L787.7,405.4 L788.0,404.1 L788.4,402.0 L788.7,403.4 L789.1,405.8 L789.5,401.4 L789.8,402.5 L790.2,405.0 L790.5,405.2 L790.8,405.1 L791.1,402.6 L791.5,399.5 L791.8,399.5 L792.1,399.4 L792.5,399.8 L792.8,395.8 L793.2,396.4 L793.6,396.8 L793.9,395.9 L794.3,395.5 L794.6,397.8 L795.0,396.5 L795.3,398.6 L795.7,395.9 L796.0,394.2 L796.4,395.8 L796.8,391.0 L797.1,392.4 L797.5,394.3 L797.8,392.2 L798.2,392.0 L798.5,397.5 L798.9,395.9 L799.2,395.3 L799.6,400.1 L799.9,400.6 L800.3,401.6 L800.7,400.4 L801.0,399.0 L801.4,401.2 L801.7,399.8 L802.1,404.8 L802.4,403.0 L802.8,404.0 L803.1,402.0 L803.5,400.1 L803.9,398.6 L804.2,398.6 L804.6,401.4 L804.9,400.6 L805.3,402.5 L805.6,400.9 L806.0,403.9 L806.3,401.9 L806.7,400.5 L807.1,403.5 L807.4,402.1 L807.8,401.3 L808.1,401.1 L808.5,406.8 L808.8,405.3 L809.2,408.4 L809.5,407.7 L809.9,406.2 L810.3,406.6 L810.6,409.5 L811.0,407.5 L811.3,407.5 L811.7,407.5 L812.0,410.1 L812.4,410.0 L812.7,411.9 L813.1,413.6 L813.4,408.8 L813.8,412.9 L814.2,407.4 L814.5,409.3 L814.8,412.3 L815.1,411.9 L815.4,410.4 L815.8,412.8 L816.2,404.2 L816.6,395.9 L817.1,385.0 L817.5,376.4 L817.9,373.3 L818.2,371.2 L818.6,370.3 L819.0,371.9 L819.3,367.5 L819.6,367.8 L819.9,364.9 L820.2,358.0 L820.6,357.7 L820.9,359.9 L821.3,366.5 L821.6,365.3 L822.0,371.1 L822.4,378.5 L822.9,383.5 L823.2,378.8 L823.5,379.0 L823.8,370.2 L824.1,369.3 L824.5,365.2 L824.8,356.9 L825.2,350.0 L825.5,346.2 L825.9,346.3 L826.2,353.7 L826.6,354.9 L827.0,355.9 L827.3,360.4 L827.7,359.3 L828.0,361.2 L828.4,356.7 L828.7,357.9 L829.1,356.8 L829.4,350.0 L829.8,345.4 L830.1,343.7 L830.5,337.3 L830.8,342.0 L831.1,342.8 L831.4,345.7 L831.7,351.5 L832.1,347.3 L832.5,348.2 L832.8,345.6 L833.2,342.5 L833.5,341.7 L833.9,340.7 L834.2,343.4 L834.6,344.5 L834.9,345.6 L835.3,344.4 L835.7,344.5 L836.0,342.1 L836.4,341.0 L836.7,344.2 L837.1,342.6 L837.4,345.3 L837.8,350.2 L838.1,349.8 L838.5,357.1 L838.9,358.6 L839.2,356.0 L839.6,356.9 L839.9,355.3 L840.3,351.5 L840.6,349.7 L841.0,347.8 L841.3,353.4 L841.7,351.7 L842.1,354.6 L842.4,353.3 L842.8,352.4 L843.1,352.3 L843.5,356.2 L843.8,354.0 L844.2,355.1 L844.5,354.3 L844.9,356.5 L845.2,358.8 L845.6,356.7 L846.0,360.4 L846.3,358.7 L846.7,356.6 L847.0,355.2 L847.4,351.2 L847.7,351.5 L848.0,350.7 L848.4,349.2 L848.7,347.5 L849.0,343.5 L849.3,343.2 L849.6,345.9 L850.0,344.8 L850.3,347.4 L850.6,344.3 L851.0,349.3 L851.3,348.0 L851.6,349.4 L852.0,345.8 L852.4,344.8 L852.7,343.9 L853.1,342.6 L853.4,342.3 L853.8,339.0 L854.1,343.6 L854.5,339.0 L854.8,340.0 L855.2,336.3 L855.5,333.8 L855.8,332.6 L856.1,332.0 L856.4,331.9 L856.8,325.9 L857.2,324.5 L857.5,324.9 L858.0,323.7 L858.4,320.4 L858.7,321.4 L859.0,323.2 L859.3,329.0 L859.6,331.1 L860.0,330.4 L860.3,329.0 L860.7,328.9 L861.1,326.6 L861.4,322.3 L861.8,324.2 L862.1,321.2 L862.5,317.8 L862.8,319.3 L863.1,323.7 L863.4,329.7 L863.7,333.8 L864.1,335.5 L864.4,336.1 L864.8,337.0 L865.1,340.4 L865.5,342.6 L865.9,339.3 L866.2,340.3 L866.6,340.3 L866.9,335.0 L867.3,335.5 L867.7,329.7 L868.2,323.1 L868.6,319.5 L869.1,313.3 L869.4,314.0 L869.7,320.0 L870.0,323.0 L870.3,323.1 L870.7,321.6 L871.0,320.9 L871.4,322.3 L871.7,319.5 L872.1,320.4 L872.4,320.4 L872.8,324.1 L873.1,323.9 L873.5,323.1 L873.9,321.2 L874.2,319.6 L874.6,319.0 L874.9,318.5 L875.3,317.8 L875.6,322.9 L876.0,324.4 L876.3,327.5 L876.7,329.4 L877.0,330.2 L877.4,332.8 L877.8,329.2 L878.1,332.4 L878.5,335.5 L878.8,333.8 L879.2,333.4 L879.5,327.1 L879.9,325.3 L880.2,323.1 L880.6,325.4 L880.9,325.5 L881.2,327.9 L881.5,329.3 L881.8,326.5 L882.2,327.9 L882.6,327.7 L882.9,324.6 L883.3,326.6 L883.6,322.7 L883.9,325.2 L884.2,322.1 L884.5,318.7 L884.9,318.1 L885.2,313.5 L885.6,309.8 L885.9,315.7 L886.2,320.3 L886.5,324.5 L886.8,326.6 L887.1,324.8 L887.4,328.7 L887.8,327.4 L888.1,329.3 L888.4,327.0 L888.8,321.6 L889.1,319.5 L889.5,320.7 L889.8,321.3" fill="none" stroke="#fcae52" stroke-width="1.65" stroke-linejoin="round"/>
<line x1="889.5" y1="321.4" x2="1090" y2="321.4" stroke="#f5a248" stroke-width="1.25"/>
<line x1="0" y1="595.5" x2="1087.5" y2="595.4" stroke="#fff" stroke-width="1.35"/>
<line x1="1086.8" y1="87.3" x2="1086.8" y2="596.1" stroke="#fff" stroke-width="1.5"/>
<path d="M1087,108.6 L1094.7,111.5 L1087,114.4 Z" fill="#fff"/>
<path d="M1087,218.6 L1094.7,221.5 L1087,224.4 Z" fill="#fff"/>
<path d="M1087,328.6 L1094.7,331.5 L1087,334.4 Z" fill="#fff"/>
<path d="M1087,438.6 L1094.7,441.5 L1087,444.4 Z" fill="#fff"/>
<path d="M1087,548.6 L1094.7,551.5 L1087,554.4 Z" fill="#fff"/>
<line x1="1087" y1="166.5" x2="1091" y2="166.5" stroke="#fff" stroke-width="1"/>
<line x1="1087" y1="276.5" x2="1091" y2="276.5" stroke="#fff" stroke-width="1"/>
<line x1="1087" y1="386.5" x2="1091" y2="386.5" stroke="#fff" stroke-width="1"/>
<line x1="1087" y1="496.5" x2="1091" y2="496.5" stroke="#fff" stroke-width="1"/>
<rect x="18" y="63" width="12" height="11.8" fill="#fbb04f"/>
<rect x="210" y="63.1" width="12.2" height="11.8" fill="#f2931a"/>
<path d="M8.5,65.5 h6 v6 h-6 Z M10,68.5 h3 M11.5,71.5 v8" fill="none" stroke="#aaa" stroke-width="1"/>
</svg>
<div class="t" style="left:1.3px;top:6.8px;font-size:35.5px;letter-spacing:1.63px;font-weight:bold;-webkit-text-stroke:0.9px #fff;">Bitcoin</div>
<div class="t" style="left:148.0px;top:6.8px;font-size:35.5px;letter-spacing:0.8px;font-weight:bold;-webkit-text-stroke:0.9px #fff;">Rebounds</div>
<div class="t" style="left:343.3px;top:6.8px;font-size:35.5px;letter-spacing:2.59px;font-weight:bold;-webkit-text-stroke:0.9px #fff;">After</div>
<div class="t" style="left:453.0px;top:6.8px;font-size:35.5px;letter-spacing:0.95px;font-weight:bold;-webkit-text-stroke:0.9px #fff;">Record</div>
<div class="t" style="left:597.0px;top:6.8px;font-size:35.5px;letter-spacing:1.37px;font-weight:bold;-webkit-text-stroke:0.9px #fff;">Liquidations</div>
<div class="t" style="left:34.0px;top:61.6px;font-size:17.4px;letter-spacing:0.52px;color:#f4f4f4;">Bitcoin</div>
<div class="t" style="left:96.5px;top:61.6px;font-size:17.4px;letter-spacing:0px;color:#f4f4f4;">-</div>
<div class="t" style="left:111.0px;top:61.6px;font-size:17.4px;letter-spacing:0.2px;color:#f4f4f4;">Last</div>
<div class="t" style="left:151.0px;top:61.6px;font-size:17.4px;letter-spacing:0.36px;color:#f4f4f4;">Price</div>
<div class="t" style="left:225.6px;top:61.6px;font-size:17.4px;letter-spacing:0.15px;color:#f4f4f4;">Close</div>
<div class="t" style="left:276.0px;top:61.6px;font-size:17.4px;letter-spacing:0.95px;color:#f4f4f4;">on</div>
<div class="t" style="left:303.4px;top:61.6px;font-size:17.4px;letter-spacing:1.38px;color:#f4f4f4;">10/07</div>
<div class="t" style="left:359.6px;top:61.6px;font-size:17.4px;letter-spacing:3.58px;color:#f4f4f4;">----</div>
<div class="t" style="left:400.4px;top:61.6px;font-size:17.4px;letter-spacing:-0.08px;color:#f4f4f4;">0.122M</div>
<div class="t" style="left:1096.1px;top:101.0px;font-size:22.6px;letter-spacing:-1.05px;"><span class="u">0.125M</span></div>
<div class="t" style="left:1096.1px;top:211.0px;font-size:22.6px;letter-spacing:-1.05px;"><span class="u">0.12M</span></div>
<div class="t" style="left:1096.1px;top:321.0px;font-size:22.6px;letter-spacing:-1.05px;"><span class="u">0.115M</span></div>
<div class="t" style="left:1096.1px;top:431.0px;font-size:22.6px;letter-spacing:-1.05px;"><span class="u">0.11M</span></div>
<div class="t" style="left:1096.1px;top:541.0px;font-size:22.6px;letter-spacing:-1.05px;"><span class="u">0.105M</span></div>
<svg width="90" height="30" viewBox="1085 307 90 30" style="left:1085px;top:307px;z-index:2"><path d="M1088,321.6 L1095.6,309.2 L1168.6,309.2 L1168.6,334.1 L1095.6,334.1 Z" fill="#fbab4e"/></svg>
<div class="t" style="left:1096.6px;top:311.6px;font-size:22.6px;letter-spacing:-0.8px;color:#141414;z-index:3;"><span class="u">0.115M</span></div>
<div class="t" style="left:73.6px;top:599.2px;font-size:22.6px;letter-spacing:-0.93px;"><span class="u">08</span></div>
<div class="t" style="left:245.9px;top:599.2px;font-size:22.6px;letter-spacing:-0.93px;"><span class="u">09</span></div>
<div class="t" style="left:418.2px;top:599.2px;font-size:22.6px;letter-spacing:-0.93px;"><span class="u">10</span></div>
<div class="t" style="left:590.5px;top:599.2px;font-size:22.6px;letter-spacing:-0.93px;"><span class="u">11</span></div>
<div class="t" style="left:762.8px;top:599.2px;font-size:22.6px;letter-spacing:-0.93px;"><span class="u">12</span></div>
<div class="t" style="left:934.5px;top:599.2px;font-size:22.6px;letter-spacing:-0.93px;"><span class="u">13</span></div>
<div class="t" style="left:472.7px;top:624.2px;font-size:22.6px;letter-spacing:-1.87px;"><span class="u">Oct</span></div>
<div class="t" style="left:512.6px;top:624.2px;font-size:22.6px;letter-spacing:-0.69px;"><span class="u">2025</span></div>
<div class="t" style="left:5.8px;top:653.4px;font-size:17.6px;letter-spacing:1.33px;font-weight:bold;-webkit-text-stroke:0.45px #fff;">Source:</div>
<div class="t" style="left:88.2px;top:653.4px;font-size:17.6px;letter-spacing:1.28px;font-weight:bold;-webkit-text-stroke:0.45px #fff;">Bloomberg</div>
<div class="t" style="left:891.8px;top:325.0px;font-size:12.7px;letter-spacing:0.09px;color:#d4962f;">-6551.00</div>
<div class="t" style="left:891.8px;top:341.3px;font-size:12.7px;letter-spacing:-0.51px;color:#d4962f;">-5.37%</div>
<div class="t" style="left:1047.9px;top:646.6px;font-size:25px;letter-spacing:0px;font-weight:bold;transform-origin:0 0;transform:scaleX(0.913);">Bloomberg</div>
<div class="t" id="usd">US Dollar</div>
<svg width="22" height="26" viewBox="0 0 22 26" style="left:1177px;top:648px">
<path d="M4.1,1.3 H16.6 A2.3,2.3 0 0 1 18.9,3.600 V16.200 A2.300,2.300 0 0 1 16.600,18.500 H13.900 L10.300,22.200 L6.700,18.500 H4.100 A2.300,2.300 0 0 1 1.800,16.200 V3.600 A2.300,2.300 0 0 1 4.100,1.300 Z" fill="#fff"/>
<rect x="4.1" y="11.500" width="1.8" height="3.300" fill="#000"/><rect x="7.7" y="8.100" width="1.700" height="6.700" fill="#000"/><rect x="11.1" y="6" width="1.800" height="8.800" fill="#000"/><rect x="14.7" y="10.900" width="1.700" height="3.900" fill="#000"/>
</svg>
</body></html>
